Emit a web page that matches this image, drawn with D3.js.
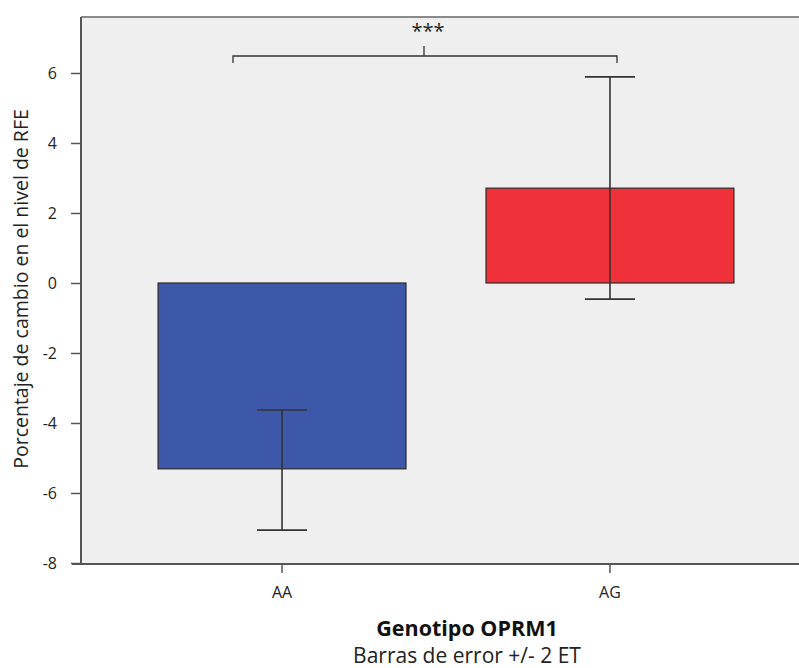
<!DOCTYPE html>
<html><head><meta charset="utf-8">
<script src="https://cdn.jsdelivr.net/npm/d3@7"></script>
<style>body{margin:0;background:#fff}svg{display:block}</style>
</head><body><svg id="c" width="799" height="668"></svg>
<script>
const categories = ["AA", "AG"];
const means = [-5.31, 2.71];
const lowerCI = [-7.06, -0.46];
const upperCI = [-3.63, 5.89];
const barColors = ["#3d58a9", "#ef3239"];
const yTicks = [-8, -6, -4, -2, 0, 2, 4, 6];
const yTickLabels = ["-8", "-6", "-4", "-2", "0", "2", "4", "6"];
const yLabel = "Porcentaje de cambio en el nivel de RFE";
const xTitle = "Genotipo OPRM1";
const xSubtitle = "Barras de error +/- 2 ET";
const sigLabel = "***";

(function () {
const svg = d3.select("#c");
const pL = 81, pT = 17, pB = 564, pR = 799;
const y = d3.scaleLinear().domain([-8, 7.6]).range([563, pT]);
const x = d3.scaleBand().domain(categories).range([81, 811]).paddingInner(0.244).paddingOuter(0.235);
const font = "'Open Sans', sans-serif";

svg.append("rect").attr("x", pL).attr("y", pT).attr("width", pR - pL).attr("height", pB - pT).attr("fill", "#efefef");
svg.append("line").attr("x1", pL).attr("x2", pR).attr("y1", pT).attr("y2", pT).attr("stroke", "#8a8a8a").attr("stroke-width", 2);

const data = categories.map((c, i) => ({c, m: means[i], lo: lowerCI[i], hi: upperCI[i], col: barColors[i]}));
svg.selectAll("rect.bar").data(data).join("rect").attr("class", "bar")
  .attr("x", d => x(d.c)).attr("width", x.bandwidth())
  .attr("y", d => y(Math.max(0, d.m))).attr("height", d => Math.abs(y(d.m) - y(0)))
  .attr("fill", d => d.col).attr("stroke", "#2a2a2a").attr("stroke-width", 1.2);

const capW = 25;
const cx = d => x(d.c) + x.bandwidth() / 2;
const eb = svg.selectAll("g.eb").data(data).join("g").attr("class", "eb").attr("stroke", "#333").attr("stroke-width", 1.6);
eb.append("line").attr("x1", cx).attr("x2", cx).attr("y1", d => y(d.lo)).attr("y2", d => y(d.hi));
eb.append("line").attr("x1", d => cx(d) - capW).attr("x2", d => cx(d) + capW).attr("y1", d => y(d.lo)).attr("y2", d => y(d.lo));
eb.append("line").attr("x1", d => cx(d) - capW).attr("x2", d => cx(d) + capW).attr("y1", d => y(d.hi)).attr("y2", d => y(d.hi));

const ya = svg.append("g").attr("transform", `translate(${pL},0)`)
  .call(d3.axisLeft(y).tickValues(yTicks).tickFormat((d, i) => yTickLabels[i]).tickSize(10).tickPadding(14));
ya.select(".domain").attr("d", `M0,${pT}V${pB}`).attr("stroke", "#555").attr("stroke-width", 2);
ya.selectAll(".tick line").attr("stroke", "#555").attr("stroke-width", 1.5);
ya.selectAll(".tick text").attr("font-family", font).attr("font-size", 16).attr("fill", "#222");

const xa = svg.append("g").attr("transform", `translate(0,${pB})`)
  .call(d3.axisBottom(x).tickSize(9).tickPadding(14));
xa.select(".domain").attr("d", `M${pL - 9},0H${pR}`).attr("stroke", "#555").attr("stroke-width", 2);
xa.selectAll(".tick line").attr("stroke", "#555").attr("stroke-width", 1.5);
xa.selectAll(".tick text").attr("font-family", font).attr("font-size", 16).attr("fill", "#222");

svg.append("path").attr("d", "M233,63V56H424V46M424,56H617V63").attr("fill", "none").attr("stroke", "#333").attr("stroke-width", 1.3);
svg.append("text").attr("x", 428).attr("y", 38).attr("text-anchor", "middle").attr("font-family", font).attr("font-size", 20).attr("fill", "#222").text(sigLabel);

svg.append("text").attr("transform", "translate(28,289) rotate(-90)").attr("text-anchor", "middle")
  .attr("font-family", font).attr("font-size", 19.5).attr("fill", "#222").text(yLabel);
svg.append("text").attr("x", 467).attr("y", 636).attr("text-anchor", "middle").attr("font-family", font).attr("font-size", 21.5).attr("font-weight", "bold").attr("fill", "#111").text(xTitle);
svg.append("text").attr("x", 467).attr("y", 663).attr("text-anchor", "middle").attr("font-family", font).attr("font-size", 21).attr("fill", "#222").text(xSubtitle);
})();
</script></body></html>
